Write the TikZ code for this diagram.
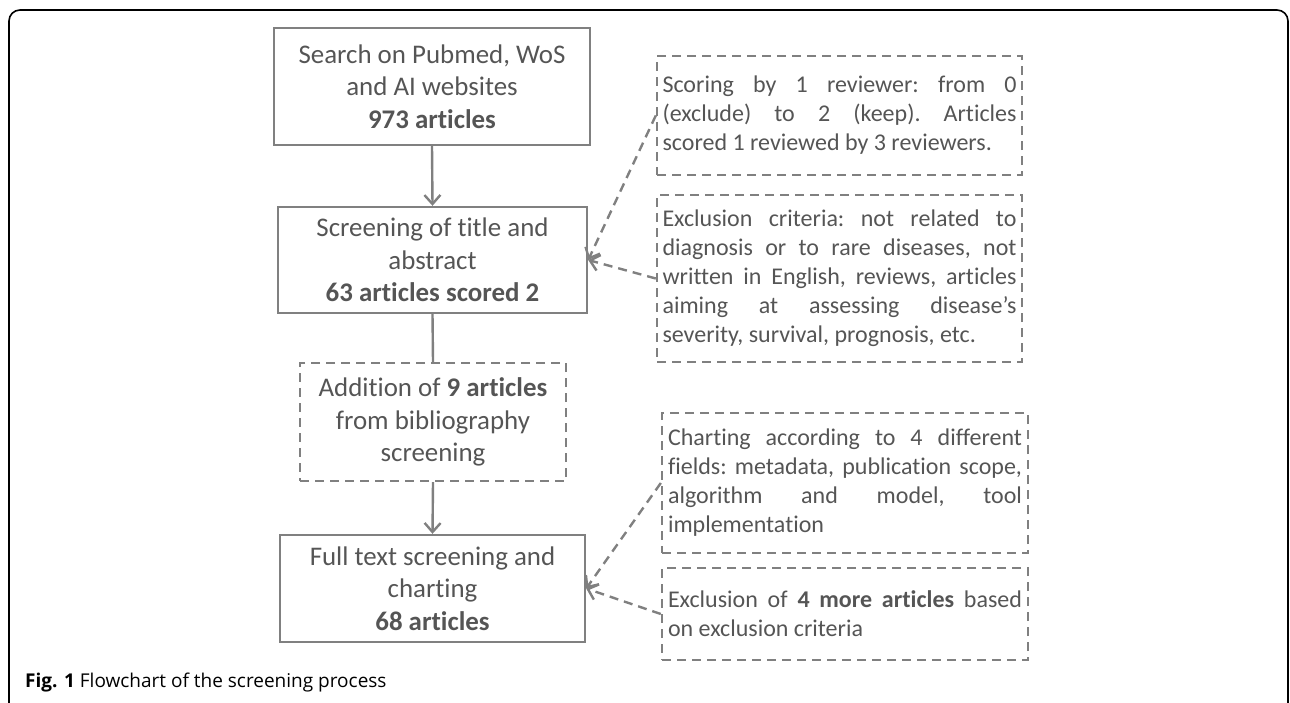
\documentclass[tikz,border=0pt]{standalone}
\usepackage{fontspec}
\setmainfont{Carlito}[Ligatures={NoCommon,NoRequired,NoContextual,NoRare},RawFeature={-liga;-clig;-rlig;-dlig;-calt}]
\newfontfamily\capfont{Open Sans}
\usetikzlibrary{arrows.meta}
\newcommand\tki{t\kern0pt i}
\definecolor{boxline}{HTML}{808080}
\definecolor{boxtext}{HTML}{555555}
\tikzset{
  mainbox/.style={draw=boxline, line width=2.4pt, text=boxtext, align=center,
    inner sep=0pt, font={\fontsize{26.9}{32.5}\selectfont}},
  sidebox/.style={draw=boxline, line width=2.4pt, text=boxtext, align=justify,
    inner sep=0pt, text width=354pt, dash pattern=on 9pt off 6pt,
    font={\fontsize{24}{29}\selectfont\frenchspacing}},
  flow/.style={draw=boxline, line width=2.4pt},
  tip/.style={-{Straight Barb[length=9pt,width=16pt,line width=2.4pt]}},
  dlink/.style={draw=boxline, line width=2.4pt, dash pattern=on 9pt off 6pt,
    -{Straight Barb[length=9pt,width=16pt,line width=2.4pt]}}
}
\begin{document}
\begin{tikzpicture}[x=1pt,y=-1pt]
\useasboundingbox (0,0) rectangle (1290,702);
% outer frame
\draw[line width=1.6pt, rounded corners=11pt] (9,720) -- (9,10) -- (1288,10) -- (1288,720);
% main boxes
\node[mainbox, minimum width=316pt, minimum height=117pt] (b1) at (432,86.5)
  {Search on Pubmed, WoS\\and AI websites\\\textbf{973 ar\tki cles}};
\node[mainbox, minimum width=309pt, minimum height=106pt] (b2) at (432.5,260)
  {Screening of title and\\abstract\\\textbf{63 ar\tki cles scored 2}};
\node[mainbox, dash pattern=on 9pt off 6pt, minimum width=266pt, minimum height=118pt] (b3) at (433,422)
  {Addi\tki on of \textbf{9 ar\tki cles}\\from bibliography\\screening};
\node[mainbox, minimum width=305pt, minimum height=107pt] (b4) at (432.5,588.5)
  {Full text screening and\\charting\\\textbf{68 ar\tki cles}};
% side boxes
\node[sidebox, minimum width=365pt, minimum height=119pt] (r1) at (839.5,115.5)
  {Scoring by 1 reviewer: from 0\linebreak (exclude) to 2 (keep). Ar\tki cles\linebreak scored 1 reviewed by 3 reviewers.};
\node[sidebox, minimum width=365pt, minimum height=167pt] (r2) at (839.5,278.5)
  {Exclusion criteria: not related to\linebreak diagnosis or to rare diseases, not\linebreak written in English, reviews, ar\tki cles\linebreak aiming at assessing disease’s\linebreak severity, survival, prognosis, etc.};
\node[sidebox, minimum width=366pt, minimum height=140pt] (r3) at (845,483)
  {Charting according to 4 different\linebreak fields: metadata, publica\tki on scope,\linebreak algorithm and model, tool\linebreak implementa\tki on};
\node[sidebox, minimum width=366pt, minimum height=92pt] (r4) at (845,614)
  {Exclusion of \textbf{4 more ar\tki cles} based\linebreak on exclusion criteria};
% connectors
\draw[flow, tip] (b1.south) -- (b2.north);
\draw[flow] (b2.south) -- (b3.north);
\draw[flow, tip] (b3.south) -- (b4.north);
\draw[dlink] (r1.west) -- (b2.east);
\draw[dlink] (r2.west) -- (b2.east);
\draw[dlink] (r3.west) -- (b4.east);
\draw[dlink] (r4.west) -- (b4.east);
% caption
\node[anchor=base west, inner sep=0pt, font={\capfont\fontsize{19}{23}\selectfont}] (cap) at (25,687)
  {\textbf{Fig. 1} Flowchart of the screening process};
\end{tikzpicture}
\end{document}
